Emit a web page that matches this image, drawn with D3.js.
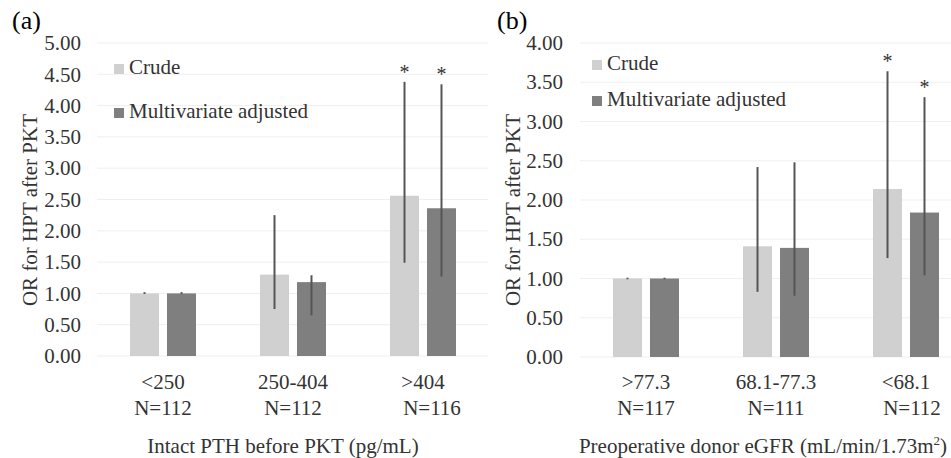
<!DOCTYPE html>
<html>
<head>
<meta charset="utf-8">
<script src="https://cdn.jsdelivr.net/npm/d3@7"></script>
<style>
  body { margin: 0; background: #fff; }
  svg { display: block; }
</style>
</head>
<body>
<svg id="chart" width="951" height="458"></svg>
<script>
// series
const seriesNames = ["Crude", "Multivariate adjusted"];
const seriesColors = ["#d0d0d0", "#7f7f7f"];

// panel (a): intact PTH
const pthCats = ["<250", "250-404", ">404"];
const pthN = ["N=112", "N=112", "N=116"];
const pthCrude = [1.00, 1.30, 2.56];
const pthCrudeLo = [0.99, 0.75, 1.49];
const pthCrudeHi = [1.02, 2.25, 4.38];
const pthAdj = [1.00, 1.18, 2.36];
const pthAdjLo = [0.99, 0.65, 1.27];
const pthAdjHi = [1.02, 1.29, 4.34];
const pthSig = [[false, false], [false, false], [true, true]];
const pthTicks = [0, 0.5, 1, 1.5, 2, 2.5, 3, 3.5, 4, 4.5, 5];

// panel (b): donor eGFR
const egfrCats = [">77.3", "68.1-77.3", "<68.1"];
const egfrN = ["N=117", "N=111", "N=112"];
const egfrCrude = [1.00, 1.41, 2.14];
const egfrCrudeLo = [0.99, 0.83, 1.26];
const egfrCrudeHi = [1.01, 2.42, 3.64];
const egfrAdj = [1.00, 1.39, 1.84];
const egfrAdjLo = [0.99, 0.78, 1.04];
const egfrAdjHi = [1.01, 2.48, 3.31];
const egfrSig = [[false, false], [false, false], [true, true]];
const egfrTicks = [0, 0.5, 1, 1.5, 2, 2.5, 3, 3.5, 4];

const svg = d3.select("#chart");
const fontFam = "'Liberation Serif', 'Times New Roman', serif";
const textColor = "#333";
const fs = 21;

function drawPanel(p) {
    const g = svg.append("g").attr("font-family", fontFam);

    const y = d3.scaleLinear().domain([0, d3.max(p.ticks)]).range([p.bottom, p.top]);
    const x0 = d3.scaleBand().domain(p.cats).range([p.left, p.right]);
    const x1 = d3.scaleBand().domain(seriesNames).range([32, 98]).paddingInner(0.216);

    // gridlines
    g.append("g").selectAll("line")
        .data(p.ticks)
        .join("line")
        .attr("x1", p.left - 1).attr("x2", p.gridEnd)
        .attr("y1", d => y(d)).attr("y2", d => y(d))
        .attr("stroke", "#efefef").attr("stroke-width", 1);

    // y axis labels
    const yAxis = g.append("g")
        .attr("transform", `translate(${p.labelX},0)`)
        .call(d3.axisLeft(y).tickValues(p.ticks).tickFormat(d3.format(".2f")).tickSize(0).tickPadding(0));
    yAxis.select(".domain").remove();
    yAxis.attr("font-family", fontFam).attr("font-size", fs);
    yAxis.selectAll("text").attr("fill", textColor);

    const rows = p.cats.map((c, i) => ({
        cat: c,
        vals: [
            { s: seriesNames[0], v: p.crude[i], lo: p.crudeLo[i], hi: p.crudeHi[i], sig: p.sig[i][0] },
            { s: seriesNames[1], v: p.adj[i], lo: p.adjLo[i], hi: p.adjHi[i], sig: p.sig[i][1] }
        ]
    }));

    const groups = g.append("g").selectAll("g")
        .data(rows)
        .join("g")
        .attr("transform", d => `translate(${x0(d.cat)},0)`);

    groups.selectAll("rect")
        .data(d => d.vals)
        .join("rect")
        .attr("x", d => x1(d.s))
        .attr("width", x1.bandwidth())
        .attr("y", d => y(d.v))
        .attr("height", d => y(0) - y(d.v))
        .attr("fill", (d, i) => seriesColors[i]);

    // error bars
    groups.selectAll("line.err")
        .data(d => d.vals)
        .join("line")
        .attr("class", "err")
        .attr("x1", d => x1(d.s) + x1.bandwidth() / 2)
        .attr("x2", d => x1(d.s) + x1.bandwidth() / 2)
        .attr("y1", d => y(d.lo))
        .attr("y2", d => y(d.hi))
        .attr("stroke", "#555")
        .attr("stroke-width", 2);

    // significance stars
    groups.selectAll("text.sig")
        .data(d => d.vals.filter(v => v.sig))
        .join("text")
        .attr("class", "sig")
        .attr("x", d => x1(d.s) + x1.bandwidth() / 2)
        .attr("y", d => y(d.hi) - 3)
        .attr("text-anchor", "middle")
        .attr("font-size", 20)
        .attr("fill", textColor)
        .text("*");

    // category labels
    const catG = g.append("g");
    catG.selectAll("text.cat")
        .data(p.cats)
        .join("text")
        .attr("class", "cat")
        .attr("x", d => x0(d) + x0.bandwidth() / 2)
        .attr("y", 389)
        .attr("text-anchor", "middle")
        .attr("font-size", fs)
        .attr("fill", textColor)
        .text(d => d);
    catG.selectAll("text.n")
        .data(p.n)
        .join("text")
        .attr("class", "n")
        .attr("x", (d, i) => x0(p.cats[i]) + x0.bandwidth() / 2 + (i === 2 ? p.nShift : 0))
        .attr("y", 415)
        .attr("text-anchor", "middle")
        .attr("font-size", fs)
        .attr("fill", textColor)
        .text(d => d);

    // x axis title
    const xt = g.append("text")
        .attr("x", p.xTitleX)
        .attr("y", 453)
        .attr("text-anchor", "middle")
        .attr("font-size", fs)
        .attr("fill", textColor);
    p.xTitle.forEach(part => {
        const t = xt.append("tspan").text(part.t);
        if (part.sup) t.attr("font-size", 13).attr("dy", -8);
        else if (part.after) t.attr("dy", 8);
    });

    // y axis title
    g.append("text")
        .attr("transform", `translate(${p.yTitleX},210) rotate(-90)`)
        .attr("text-anchor", "middle")
        .attr("dominant-baseline", "central")
        .attr("font-size", fs)
        .attr("fill", textColor)
        .text("OR for HPT after PKT");

    // panel letter
    g.append("text")
        .attr("x", p.letterX)
        .attr("y", 29)
        .attr("font-size", 26)
        .attr("fill", "#000")
        .text(p.letter);

    // legend
    const leg = g.append("g").selectAll("g")
        .data(seriesNames)
        .join("g")
        .attr("transform", (d, i) => `translate(${p.legX},${p.legY + i * p.legGap})`);
    leg.append("rect")
        .attr("x", 0).attr("y", -10)
        .attr("width", 10).attr("height", 10)
        .attr("fill", (d, i) => seriesColors[i]);
    leg.append("text")
        .attr("x", 15).attr("y", 0)
        .attr("font-size", fs)
        .attr("fill", textColor)
        .text(d => d);
}

drawPanel({
    letter: "(a)", letterX: 12,
    cats: pthCats, n: pthN, nShift: 9,
    crude: pthCrude, crudeLo: pthCrudeLo, crudeHi: pthCrudeHi,
    adj: pthAdj, adjLo: pthAdjLo, adjHi: pthAdjHi, sig: pthSig,
    ticks: pthTicks,
    top: 43, bottom: 356, left: 98, right: 488, gridEnd: 488, labelX: 81,
    yTitleX: 30, xTitleX: 283,
    xTitle: [{ t: "Intact PTH before PKT (pg/mL)" }],
    legX: 114, legY: 74, legGap: 44
});

drawPanel({
    letter: "(b)", letterX: 497,
    cats: egfrCats, n: egfrN, nShift: 6,
    crude: egfrCrude, crudeLo: egfrCrudeLo, crudeHi: egfrCrudeHi,
    adj: egfrAdj, adjLo: egfrAdjLo, adjHi: egfrAdjHi, sig: egfrSig,
    ticks: egfrTicks,
    top: 43, bottom: 357, left: 581, right: 971, gridEnd: 960, labelX: 563,
    yTitleX: 513, xTitleX: 763,
    xTitle: [{ t: "Preoperative donor eGFR (mL/min/1.73m" }, { t: "2", sup: true }, { t: ")", after: true }],
    legX: 592, legY: 70, legGap: 36
});
</script>
</body>
</html>
